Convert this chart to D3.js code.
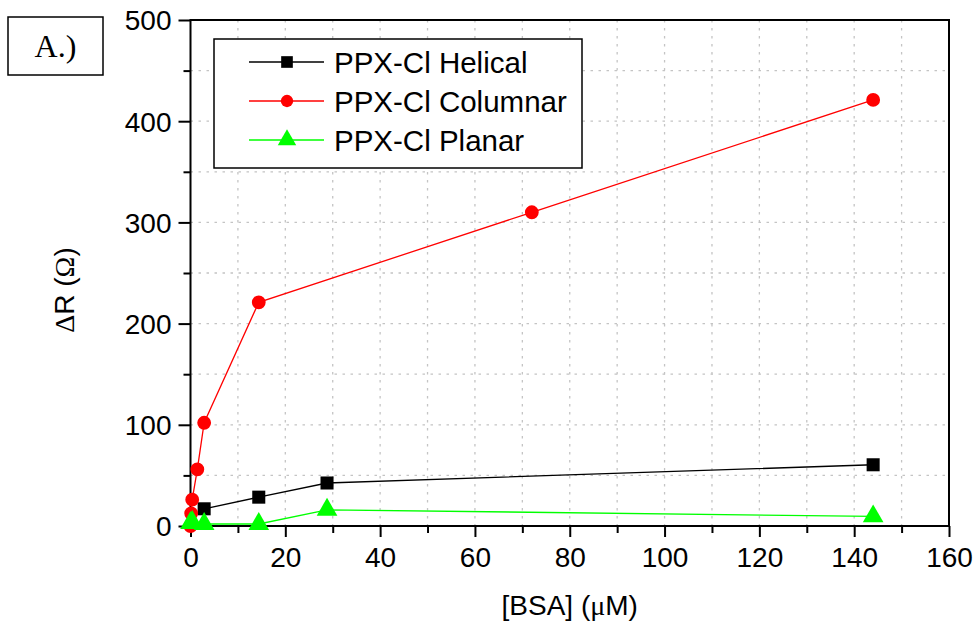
<!DOCTYPE html>
<html>
<head>
<meta charset="utf-8">
<script src="https://cdn.jsdelivr.net/npm/d3@7"></script>
<style>
  body { margin: 0; background: #fff; }
  text { font-family: "Liberation Sans", Arial, sans-serif; fill: #000; }
</style>
</head>
<body>
<svg id="chart" width="980" height="624"></svg>
<script>
// values
const helicalX = [2.88, 14.4, 28.8, 144];
const helicalY = [17, 28.5, 42.5, 60.5];
const columnarX = [0, 0.14, 0.36, 1.44, 2.88, 14.4, 72, 144];
const columnarY = [0, 12.5, 26, 56, 102, 221, 310, 421];
const planarX = [0, 0.36, 2.88, 14.4, 28.8, 144];
const planarY = [3, 4, 2, 2, 16, 9.5];
const xTicks = [0, 20, 40, 60, 80, 100, 120, 140, 160];
const yTicks = [0, 100, 200, 300, 400, 500];

const series = [
  { name: "PPX-Cl Helical", color: "#000000", symbol: d3.symbolSquare, size: 170, xs: helicalX, ys: helicalY },
  { name: "PPX-Cl Columnar", color: "#ff0000", symbol: d3.symbolCircle, size: 150, xs: columnarX, ys: columnarY },
  { name: "PPX-Cl Planar", color: "#00ff00", symbol: d3.symbolTriangle, size: 185, xs: planarX, ys: planarY }
];

const svg = d3.select("#chart");
const plotL = 190.5, plotR = 949, plotT = 20, plotB = 526;

const x = d3.scaleLinear().domain([0, 160]).range([plotL, plotR]);
const y = d3.scaleLinear().domain([0, 500]).range([plotB, plotT]);

// dotted grid
const grid = svg.append("g")
  .attr("stroke", "#c4c4c4")
  .attr("stroke-width", 1.3)
  .attr("stroke-dasharray", "2.5,5.5");
grid.selectAll(".gx").data(d3.range(10, 160, 10)).join("line")
  .attr("x1", d => x(d)).attr("x2", d => x(d))
  .attr("y1", plotT).attr("y2", plotB);
grid.selectAll(".gy").data(d3.range(50, 500, 50)).join("line")
  .attr("y1", d => y(d)).attr("y2", d => y(d))
  .attr("x1", plotL).attr("x2", plotR);

// frame
svg.append("rect")
  .attr("x", plotL).attr("y", plotT)
  .attr("width", plotR - plotL).attr("height", plotB - plotT)
  .attr("fill", "none").attr("stroke", "#000").attr("stroke-width", 2);

// bottom axis
const xMinor = svg.append("g").attr("transform", `translate(0,${plotB})`)
  .call(d3.axisBottom(x).tickValues(d3.range(10, 160, 20)).tickSize(7).tickFormat(""));
xMinor.select(".domain").remove();
const xMajor = svg.append("g").attr("transform", `translate(0,${plotB})`)
  .call(d3.axisBottom(x).tickValues(xTicks).tickSize(11).tickPadding(10).tickFormat(d3.format("d")));
xMajor.select(".domain").remove();
xMajor.selectAll("text").attr("font-size", 28).style("font-family", "Liberation Sans, Arial, sans-serif");

// left axis
const yMinor = svg.append("g").attr("transform", `translate(${plotL},0)`)
  .call(d3.axisLeft(y).tickValues(d3.range(50, 500, 100)).tickSize(7).tickFormat(""));
yMinor.select(".domain").remove();
const yMajor = svg.append("g").attr("transform", `translate(${plotL},0)`)
  .call(d3.axisLeft(y).tickValues(yTicks).tickSize(12).tickPadding(7));
yMajor.select(".domain").remove();
yMajor.selectAll("text").attr("font-size", 28).attr("dy", "0.35em").style("font-family", "Liberation Sans, Arial, sans-serif");
svg.selectAll("g.tick line").attr("stroke-width", 2);

// series lines and markers
const line = d3.line().x(d => x(d[0])).y(d => y(d[1]));
series.forEach(s => {
  const pts = s.xs.map((v, i) => [v, s.ys[i]]);
  svg.append("path").datum(pts)
    .attr("d", line).attr("fill", "none")
    .attr("stroke", s.color).attr("stroke-width", 1.3);
});
series.forEach(s => {
  const pts = s.xs.map((v, i) => [v, s.ys[i]]);
  svg.append("g").selectAll("path").data(pts).join("path")
    .attr("transform", d => `translate(${x(d[0])},${y(d[1])})`)
    .attr("d", d3.symbol().type(s.symbol).size(s.size))
    .attr("fill", s.color);
});

// legend
svg.append("rect")
  .attr("x", 214).attr("y", 39).attr("width", 368).attr("height", 129)
  .attr("fill", "#fff").attr("stroke", "#000").attr("stroke-width", 1.5);
series.forEach((s, i) => {
  const ly = 62 + i * 39;
  svg.append("line").attr("x1", 249).attr("x2", 324).attr("y1", ly).attr("y2", ly)
    .attr("stroke", s.color).attr("stroke-width", 1.3);
  svg.append("path").attr("transform", `translate(287,${ly})`)
    .attr("d", d3.symbol().type(s.symbol).size(s.size * 0.8)).attr("fill", s.color);
  svg.append("text").attr("x", 334).attr("y", ly).attr("dy", "0.36em")
    .attr("font-size", 29.5).text(s.name);
});

// axis titles
const xt = svg.append("text").attr("x", (plotL + plotR) / 2).attr("y", 615)
  .attr("text-anchor", "middle").attr("font-size", 28);
xt.append("tspan").text("[BSA] (");
xt.append("tspan").style("font-family", "Liberation Serif, serif").text("μ");
xt.append("tspan").text("M)");
const yt = svg.append("text")
  .attr("transform", "translate(74,290) rotate(-90)")
  .attr("text-anchor", "middle").attr("font-size", 28);
yt.append("tspan").style("font-family", "Liberation Serif, serif").text("Δ");
yt.append("tspan").text("R (");
yt.append("tspan").style("font-family", "Liberation Serif, serif").text("Ω");
yt.append("tspan").text(")");

// panel label
svg.append("rect").attr("x", 8).attr("y", 17).attr("width", 95).attr("height", 58)
  .attr("fill", "none").attr("stroke", "#000").attr("stroke-width", 1.5);
svg.append("text").attr("x", 55.5).attr("y", 57).attr("text-anchor", "middle")
  .attr("font-size", 32).style("font-family", "Liberation Serif, 'Times New Roman', serif")
  .text("A.)");
</script>
</body>
</html>
